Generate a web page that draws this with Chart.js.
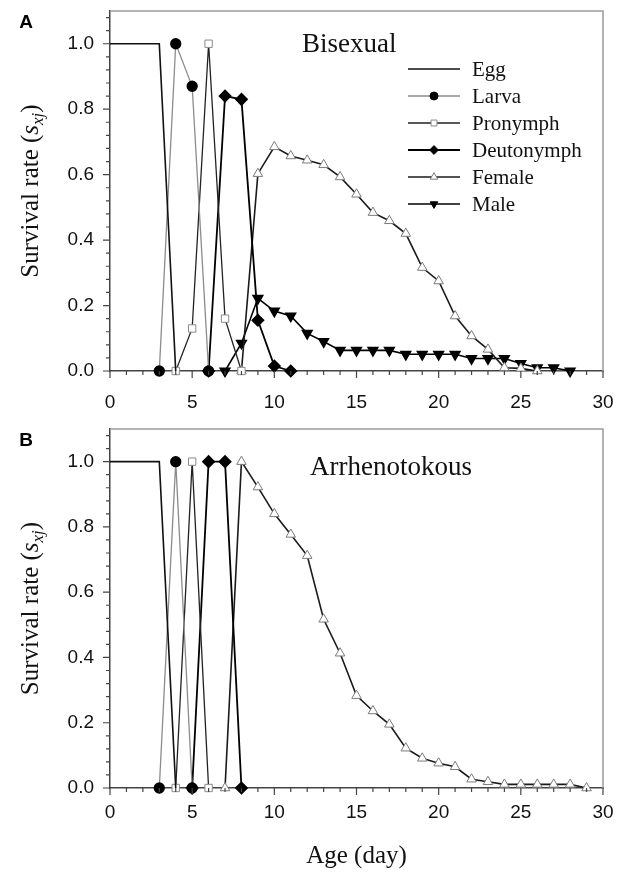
<!DOCTYPE html>
<html>
<head>
<meta charset="utf-8">
<script src="https://cdn.jsdelivr.net/npm/chart.js@4.4.0/dist/chart.umd.min.js"></script>
<style>
  body { margin: 0; background: #fff; }
  .panel { position: absolute; left: 0; }
</style>
</head>
<body>
<div class="panel" style="top:0"><canvas id="chartA" width="617" height="420"></canvas></div>
<div class="panel" style="top:420px"><canvas id="chartB" width="617" height="459"></canvas></div>
<script>
// survival rate s_xj, each series: first day + values for consecutive days
var eggStartA = 0,       eggA = [1, 1, 1, 1, 0];
var larvaStartA = 3,     larvaA = [0, 1, 0.87, 0];
var pronymphStartA = 4,  pronymphA = [0, 0.13, 1, 0.16, 0];
var deutoStartA = 6,     deutoA = [0, 0.84, 0.83, 0.155, 0.015, 0];
var femaleStartA = 8,    femaleA = [0, 0.603, 0.685, 0.657, 0.644, 0.63, 0.593, 0.54, 0.484, 0.459, 0.42, 0.316, 0.275, 0.168, 0.107, 0.066, 0.01, 0.008, 0];
var maleStartA = 7,      maleA = [0, 0.085, 0.222, 0.183, 0.168, 0.115, 0.09, 0.063, 0.063, 0.063, 0.063, 0.051, 0.051, 0.051, 0.051, 0.038, 0.038, 0.038, 0.023, 0.01, 0.01, 0];

var eggStartB = 0,       eggB = [1, 1, 1, 1, 0];
var larvaStartB = 3,     larvaB = [0, 1, 0];
var pronymphStartB = 4,  pronymphB = [0, 1, 0];
var deutoStartB = 5,     deutoB = [0, 1, 1, 0];
var femaleStartB = 7,    femaleB = [0, 1, 0.922, 0.84, 0.777, 0.712, 0.517, 0.413, 0.283, 0.236, 0.195, 0.122, 0.091, 0.076, 0.065, 0.027, 0.019, 0.011, 0.011, 0.011, 0.011, 0.011, 0];

var xTicks = [0, 5, 10, 15, 20, 25, 30];
var yTicks = [0, 0.2, 0.4, 0.6, 0.8, 1.0];

var serif = '"Liberation Serif", "Times New Roman", serif';
var sans = '"Liberation Sans", Arial, sans-serif';

function pts(start, vals) {
    var out = [];
    for (var i = 0; i < vals.length; i++) out.push({ x: start + i, y: vals[i] });
    return out;
}

var styles = {
    Egg:        { borderColor: '#111', borderWidth: 1.6, pointRadius: 0 },
    Larva:      { borderColor: '#8c8c8c', borderWidth: 1.3, pointStyle: 'circle', pointRadius: 5, pointBackgroundColor: '#000', pointBorderColor: '#000' },
    Pronymph:   { borderColor: '#222', borderWidth: 1.3, pointStyle: 'rect', pointRadius: 5.2, pointBackgroundColor: '#fff', pointBorderColor: '#8a8a8a', pointBorderWidth: 1 },
    Deutonymph: { borderColor: '#000', borderWidth: 1.8, pointStyle: 'rectRot', pointRadius: 5.5, pointBackgroundColor: '#000', pointBorderColor: '#000' },
    Female:     { borderColor: '#1a1a1a', borderWidth: 1.6, pointStyle: 'triangle', pointRadius: 5.5, pointBackgroundColor: '#fff', pointBorderColor: '#7a7a7a', pointBorderWidth: 1 },
    Male:       { borderColor: '#000', borderWidth: 1.6, pointStyle: 'triangle', pointRotation: 180, pointRadius: 5.5, pointBackgroundColor: '#000', pointBorderColor: '#000' }
};

function makeDataset(name, data) {
    var d = { label: name, data: data, tension: 0, fill: false, clip: false };
    var s = styles[name];
    for (var k in s) d[k] = s[k];
    return d;
}

function drawYTitle(ctx, cx, cy) {
    var parts = [
        { t: 'Survival rate (', f: '25px ' + serif, dy: 0 },
        { t: 's', f: 'italic 25px ' + serif, dy: 0 },
        { t: 'xj', f: 'italic 17px ' + serif, dy: 5 },
        { t: ')', f: '25px ' + serif, dy: 0 }
    ];
    var total = 0;
    parts.forEach(function (p) { ctx.font = p.f; p.w = ctx.measureText(p.t).width; total += p.w; });
    ctx.save();
    ctx.translate(cx, cy);
    ctx.rotate(-Math.PI / 2);
    ctx.fillStyle = '#111';
    ctx.textBaseline = 'alphabetic';
    ctx.textAlign = 'left';
    var x = -total / 2;
    parts.forEach(function (p) {
        ctx.font = p.f;
        ctx.fillText(p.t, x, 8 + p.dy);
        x += p.w;
    });
    ctx.restore();
}

var decor = {
    id: 'decor',
    afterDraw: function (chart, args, o) {
        var ctx = chart.ctx, a = chart.chartArea;
        var xs = chart.scales.x, ys = chart.scales.y;
        ctx.save();
        // top and right frame
        ctx.strokeStyle = '#9a9a9a';
        ctx.lineWidth = 1.5;
        ctx.beginPath();
        ctx.moveTo(a.left, a.top); ctx.lineTo(a.right, a.top); ctx.lineTo(a.right, a.bottom);
        ctx.stroke();
        // ticks
        ctx.strokeStyle = '#444';
        ctx.lineWidth = 1.2;
        ctx.beginPath();
        for (var d = 0; d <= 30; d++) {
            var px = xs.getPixelForValue(d);
            var len = d % 5 === 0 ? 7 : 4;
            ctx.moveTo(px, a.bottom); ctx.lineTo(px, a.bottom + len);
        }
        for (var j = 0; j <= 27; j++) {
            var v = j * 0.04;
            var py = ys.getPixelForValue(v);
            var l = j % 5 === 0 ? 7 : 4;
            ctx.moveTo(a.left, py); ctx.lineTo(a.left - l, py);
        }
        ctx.stroke();
        // panel letter
        ctx.fillStyle = '#000';
        ctx.font = 'bold 19px ' + sans;
        ctx.textAlign = 'center';
        ctx.textBaseline = 'middle';
        ctx.fillText(o.letter, 26, a.top + 12);
        // panel title
        ctx.font = '27px ' + serif;
        ctx.textAlign = 'left';
        ctx.textBaseline = 'alphabetic';
        ctx.fillStyle = '#111';
        ctx.fillText(o.title, o.titleX, o.titleY);
        drawYTitle(ctx, 30, (a.top + a.bottom) / 2);
        // legend
        if (o.legend) {
            var rowY = 69;
            chart.data.datasets.forEach(function (ds) {
                ctx.strokeStyle = ds.borderColor;
                ctx.lineWidth = ds.borderWidth;
                ctx.beginPath();
                ctx.moveTo(408, rowY); ctx.lineTo(460, rowY);
                ctx.stroke();
                if (ds.pointRadius > 0) {
                    ctx.fillStyle = ds.pointBackgroundColor;
                    ctx.strokeStyle = ds.pointBorderColor;
                    ctx.lineWidth = ds.pointBorderWidth || 1;
                    Chart.helpers.drawPoint(ctx, {
                        pointStyle: ds.pointStyle,
                        rotation: ds.pointRotation || 0,
                        radius: ds.pointRadius * 0.8,
                        borderWidth: ds.pointBorderWidth || 1
                    }, 434, rowY);
                }
                ctx.fillStyle = '#111';
                ctx.font = '21px ' + serif;
                ctx.textBaseline = 'middle';
                ctx.fillText(ds.label, 472, rowY + 1);
                rowY += 27;
            });
        }
        if (o.xTitle) {
            ctx.font = '25px ' + serif;
            ctx.textAlign = 'center';
            ctx.textBaseline = 'alphabetic';
            ctx.fillStyle = '#111';
            ctx.fillText(o.xTitle, (a.left + a.right) / 2, o.xTitleY);
        }
        ctx.restore();
    }
};

function makeChart(id, datasets, axisH, topPad, labelPad, decorOpts) {
    return new Chart(document.getElementById(id), {
        type: 'line',
        data: { datasets: datasets },
        options: {
            responsive: false,
            animation: false,
            layout: { padding: { left: 0, right: 14, top: topPad, bottom: 0 } },
            plugins: { legend: { display: false }, tooltip: { enabled: false }, decor: decorOpts },
            scales: {
                x: {
                    type: 'linear', min: 0, max: 30,
                    afterFit: function (s) { s.height = axisH; s.paddingLeft = 0; s.paddingRight = 0; },
                    afterBuildTicks: function (s) { s.ticks = xTicks.map(function (v) { return { value: v }; }); },
                    grid: { display: true, drawOnChartArea: false, drawTicks: false },
                    border: { display: true, color: '#444', width: 1.5 },
                    ticks: { padding: labelPad, color: '#111', font: { family: sans, size: 19 }, maxRotation: 0 }
                },
                y: {
                    type: 'linear', min: 0, max: 1.1,
                    afterFit: function (s) { s.width = 110; s.paddingTop = 0; s.paddingBottom = 0; },
                    afterBuildTicks: function (s) { s.ticks = yTicks.map(function (v) { return { value: v }; }); },
                    grid: { display: true, drawOnChartArea: false, drawTicks: false },
                    border: { display: true, color: '#444', width: 1.5 },
                    ticks: { padding: 16, color: '#111', font: { family: sans, size: 19 },
                        callback: function (v) { return Number(v).toFixed(1); } }
                }
            }
        },
        plugins: [decor]
    });
}

var dsA = [
    makeDataset('Egg', pts(eggStartA, eggA)),
    makeDataset('Larva', pts(larvaStartA, larvaA)),
    makeDataset('Pronymph', pts(pronymphStartA, pronymphA)),
    makeDataset('Deutonymph', pts(deutoStartA, deutoA)),
    makeDataset('Female', pts(femaleStartA, femaleA)),
    makeDataset('Male', pts(maleStartA, maleA))
];
var dsB = [
    makeDataset('Egg', pts(eggStartB, eggB)),
    makeDataset('Larva', pts(larvaStartB, larvaB)),
    makeDataset('Pronymph', pts(pronymphStartB, pronymphB)),
    makeDataset('Deutonymph', pts(deutoStartB, deutoB)),
    makeDataset('Female', pts(femaleStartB, femaleB))
];

makeChart('chartA', dsA, 49, 11, 20, { letter: 'A', title: 'Bisexual', titleX: 302, titleY: 52, legend: true });
makeChart('chartB', dsB, 91, 9, 13, { letter: 'B', title: 'Arrhenotokous', titleX: 310, titleY: 55, xTitle: 'Age (day)', xTitleY: 443 });
</script>
</body>
</html>
